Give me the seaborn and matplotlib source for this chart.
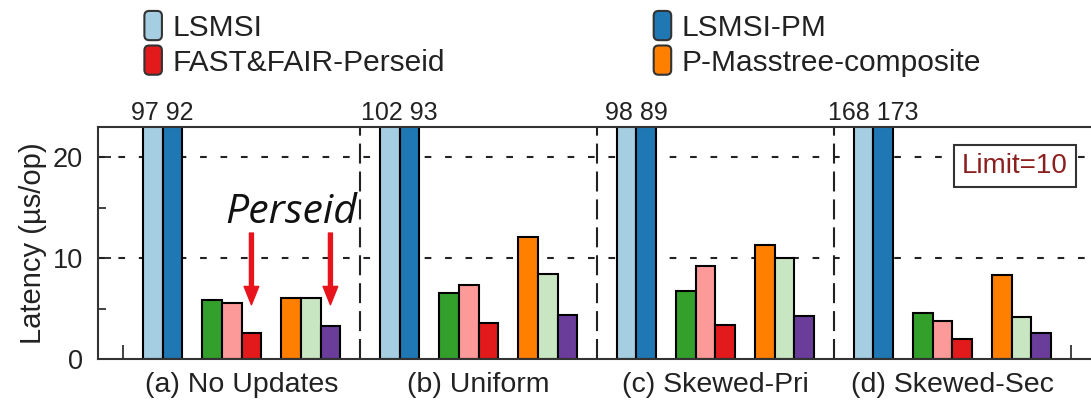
import matplotlib
matplotlib.use("Agg")
import matplotlib.pyplot as plt
import seaborn as sns
import pandas as pd
from matplotlib.patches import FancyBboxPatch, Patch
from matplotlib.legend_handler import HandlerPatch
from matplotlib.ticker import FixedLocator

# ---------------- data ----------------
workloads = ["(a) No Updates", "(b) Uniform", "(c) Skewed-Pri", "(d) Skewed-Sec"]
series_names = ["LSMSI", "LSMSI-PM",
                "FAST&FAIR-composite", "FAST&FAIR-log", "FAST&FAIR-Perseid",
                "P-Masstree-composite", "P-Masstree-log", "P-Masstree-Perseid"]
lsmsi = [97, 102, 98, 168]
lsmsi_pm = [92, 93, 89, 173]
ff_composite = [5.9, 6.6, 6.8, 4.6]
ff_log = [5.6, 7.4, 9.2, 3.8]
ff_perseid = [2.6, 3.6, 3.4, 2.0]
pm_composite = [6.1, 12.1, 11.3, 8.3]
pm_log = [6.1, 8.4, 10.0, 4.2]
pm_perseid = [3.3, 4.4, 4.3, 2.6]
colors = ["#a6cee3", "#1f78b4", "#33a02c", "#fb9a99", "#e31a1c",
          "#ff7f00", "#c9e6c2", "#6a3d9a"]
legend_names = ["LSMSI", "FAST&FAIR-Perseid", "LSMSI-PM", "P-Masstree-composite"]
limit_text = "Limit=10"
ylim_top = 23.0

# ---------------- layout ----------------
values = [lsmsi, lsmsi_pm, ff_composite, ff_log, ff_perseid, pm_composite, pm_log, pm_perseid]
slots = [1, 2, 4, 5, 6, 8, 9, 10]   # slot inside a group of 12
group_w = 12

rows = []
for s, (name, vals) in enumerate(zip(series_names, values)):
    for g, v in enumerate(vals):
        rows.append({"workload": workloads[g], "series": name,
                     "pos": g * group_w + slots[s] + 0.5, "latency": v})
df = pd.DataFrame(rows)

sns.set_style("ticks")
plt.rcParams["font.family"] = ["Liberation Sans", "DejaVu Sans"]

fig = plt.figure(figsize=(10.91, 4.01), dpi=100)
ax = fig.add_axes([98 / 1091, 41.7 / 401, 998 / 1091, 232.3 / 401])

# grid lines behind bars
for yv in (10, 20):
    ax.axhline(yv, color="#222222", lw=1.5, ls=(0, (3.2, 6.6)), zorder=0)

sns.barplot(data=df, x="pos", y="latency", hue="series", hue_order=series_names,
            palette=colors, native_scale=True, dodge=False, width=1.0,
            orient="x", saturation=1, edgecolor="black", linewidth=1.5,
            legend=False, ax=ax, zorder=2)

n_groups = len(workloads)
ax.set_xlim(-1.27, n_groups * group_w + 1.27)
ax.set_ylim(0, ylim_top)

# group separators
for g in range(1, n_groups):
    ax.axvline(g * group_w, color="#222222", lw=1.5, ls=(0, (9.6, 3.8)), zorder=1)

# ticks
ax.set_xticks([g * group_w + group_w / 2 for g in range(n_groups)])
ax.set_xticklabels(workloads, fontsize=20.5)
ax.xaxis.set_minor_locator(FixedLocator([g * group_w for g in range(n_groups + 1)]))
ax.tick_params(axis="x", which="major", length=0, pad=9, colors="#222222")
ax.tick_params(axis="x", which="minor", direction="in", length=10, width=1.3, color="#333333")
ax.set_yticks([0, 10, 20])
ax.yaxis.set_minor_locator(FixedLocator([5, 15]))
ax.tick_params(axis="y", which="major", direction="in", length=9, width=1.3,
               labelsize=19.5, pad=11, colors="#222222")
ax.tick_params(axis="y", which="minor", direction="in", length=6, width=1.3, color="#333333")
ax.set_xlabel("")
ax.set_ylabel("Latency (µs/op)", fontsize=21, labelpad=4, color="#222222")
for sp in ax.spines.values():
    sp.set_linewidth(1.5)
    sp.set_color("#333333")
    sp.set_visible(True)

# values of clipped bars
for g in range(n_groups):
    xc = (g * group_w + slots[0] + 0.5 + g * group_w + slots[1] + 0.5) / 2
    ax.annotate(f"{lsmsi[g]} {lsmsi_pm[g]}", xy=(xc, 1.0),
                xycoords=("data", "axes fraction"), xytext=(0, 5),
                textcoords="offset points", ha="center", va="baseline",
                fontsize=18, color="#222222", annotation_clip=False)

# Perseid annotation in first group
x_red = slots[4] + 0.5
x_purple = slots[7] + 0.5
ax.text((x_red + x_purple) / 2, 13.5, "Perseid", ha="center", va="baseline",
        fontsize=29.5, style="italic", family=["Open Sans", "DejaVu Sans"],
        color="#111111", zorder=5)
for xa in (x_red, x_purple):
    ax.annotate("", xy=(xa, 5.4), xytext=(xa, 12.5),
                arrowprops=dict(arrowstyle="simple,head_length=0.6,head_width=0.48,tail_width=0.13",
                                color="#e8141c", mutation_scale=22, shrinkA=0, shrinkB=0),
                zorder=5)

# Limit box
ax.text(0.919, 0.832, limit_text, transform=ax.transAxes, ha="center", va="center",
        fontsize=20, color="#8b1f1f", zorder=6,
        bbox=dict(boxstyle="square,pad=0.3", fc="white", ec="#333333", lw=1.5))

# legend with rounded handles
class RoundHandler(HandlerPatch):
    def create_artists(self, legend, orig_handle, xdescent, ydescent, width, height,
                       fontsize, trans):
        p = FancyBboxPatch((-xdescent + 1, -ydescent - 3), width - 2, height + 6,
                           boxstyle="round,pad=0,rounding_size=3.5",
                           fc=orig_handle.get_facecolor(), ec="#333333", lw=1.5,
                           transform=trans)
        return [p]

handles = [Patch(facecolor=colors[series_names.index(n)]) for n in legend_names]
fig.legend(handles, legend_names, loc="upper left", bbox_to_anchor=(143 / 1091, 1 - 14 / 401),
           ncol=2, frameon=False, fontsize=21.5, handlelength=0.68, handleheight=0.7,
           handletextpad=0.3, columnspacing=6.95, labelspacing=0.22, borderpad=0,
           borderaxespad=0, handler_map={Patch: RoundHandler()},
           labelcolor="#222222")

fig.savefig("out.png", dpi=100)
